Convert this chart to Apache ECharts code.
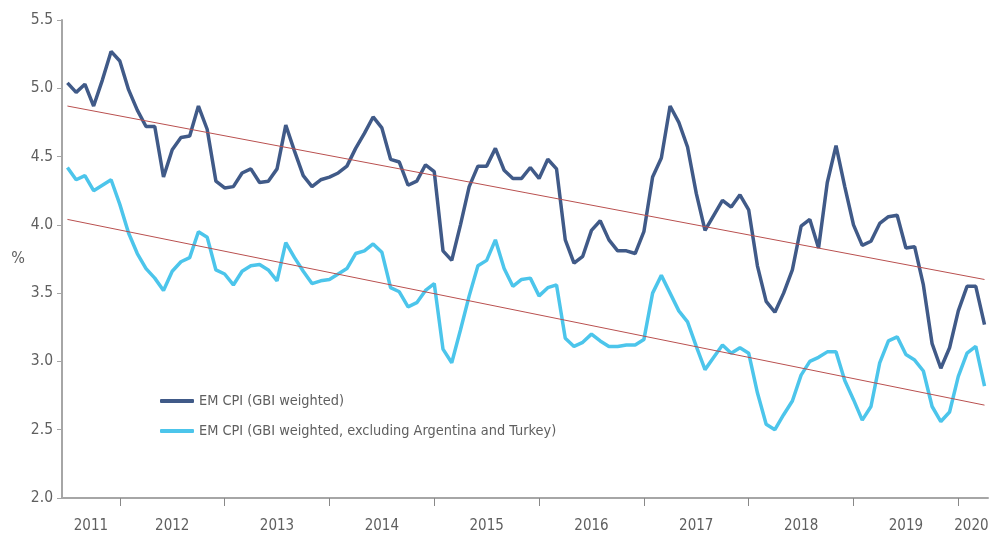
<!DOCTYPE html>
<html>
<head>
<meta charset="utf-8">
<script src="https://cdn.jsdelivr.net/npm/echarts@6/dist/echarts.min.js"></script>
<style>
  html, body { margin: 0; padding: 0; background: #fff; }
  #chart { width: 989px; height: 533px; }
</style>
</head>
<body>
<div id="chart"></div>
<script>
// monthly readings, Jul 2011 .. Apr 2020
const startYear = 2011
const startMonth = 7
const years = ['2011', '2012', '2013', '2014', '2015', '2016', '2017', '2018', '2019', '2020']

const cpiAll = [
  5.04, 4.97, 5.03, 4.87, 5.06, 5.27, 5.20, 4.99, 4.84, 4.72, 4.72, 4.35,
  4.55, 4.64, 4.65, 4.87, 4.70, 4.32, 4.27, 4.28, 4.38, 4.41, 4.31, 4.32,
  4.41, 4.73, 4.54, 4.36, 4.28, 4.33, 4.35, 4.38, 4.43, 4.56, 4.67, 4.79,
  4.71, 4.48, 4.46, 4.29, 4.32, 4.44, 4.39, 3.81, 3.74, 4.00, 4.28, 4.43,
  4.43, 4.56, 4.40, 4.34, 4.34, 4.42, 4.34, 4.48, 4.41, 3.89, 3.72, 3.77,
  3.96, 4.03, 3.89, 3.81, 3.81, 3.79, 3.95, 4.35, 4.49, 4.87, 4.75, 4.57,
  4.23, 3.96, 4.07, 4.18, 4.13, 4.22, 4.11, 3.70, 3.44, 3.36, 3.50, 3.67,
  3.99, 4.04, 3.83, 4.31, 4.58, 4.28, 4.00, 3.85, 3.88, 4.01, 4.06, 4.07,
  3.83, 3.84, 3.56, 3.13, 2.95, 3.10, 3.37, 3.55, 3.55, 3.27
]

const cpiExArgTur = [
  4.42, 4.33, 4.36, 4.25, 4.29, 4.33, 4.15, 3.94, 3.79, 3.68, 3.61, 3.52,
  3.66, 3.73, 3.76, 3.95, 3.91, 3.67, 3.64, 3.56, 3.66, 3.70, 3.71, 3.67,
  3.59, 3.87, 3.76, 3.66, 3.57, 3.59, 3.60, 3.64, 3.68, 3.79, 3.81, 3.86,
  3.80, 3.54, 3.51, 3.40, 3.43, 3.52, 3.57, 3.09, 2.99, 3.23, 3.48, 3.70,
  3.74, 3.89, 3.68, 3.55, 3.60, 3.61, 3.48, 3.54, 3.56, 3.17, 3.11, 3.14,
  3.20, 3.15, 3.11, 3.11, 3.12, 3.12, 3.16, 3.50, 3.63, 3.50, 3.37, 3.29,
  3.11, 2.94, 3.03, 3.12, 3.06, 3.10, 3.06, 2.77, 2.54, 2.50, 2.61, 2.71,
  2.90, 3.00, 3.03, 3.07, 3.07, 2.86, 2.72, 2.57, 2.67, 2.99, 3.15, 3.18,
  3.05, 3.01, 2.93, 2.67, 2.56, 2.63, 2.89, 3.06, 3.11, 2.82
]

// linear trend end points (first and last month)
const trendAll = [4.87, 3.60]
const trendExArgTur = [4.04, 2.68]

const names = ['EM CPI (GBI weighted)', 'EM CPI (GBI weighted, excluding Argentina and Turkey)']

const FONT = '"Liberation Sans Narrow", "DejaVu Sans Condensed", "Roboto", sans-serif'
const GREY_TEXT = '#5f5f5f'
const AXIS_GREY = '#a6a6a6'

const last = cpiAll.length - 1
const xMin = -0.62
const xMax = last + 0.4

// january of every year, as month index from the first reading
const yearTicks = years.slice(1).map(y => (Number(y) - startYear) * 12 - (startMonth - 1))
const bounds = [xMin, ...yearTicks, xMax]
const labelPos = years.map((y, i) => (bounds[i] + bounds[i + 1]) / 2)
labelPos[labelPos.length - 1] -= 0.2 // keep the last year label inside the frame

const toPoints = arr => arr.map((v, i) => [i, v])

const chart = echarts.init(document.getElementById('chart'))
chart.setOption({
  animation: false,
  textStyle: { fontFamily: FONT },
  grid: { left: 62, right: 1, top: 20, bottom: 35, outerBoundsMode: 'none', containLabel: false },
  legend: {
    data: names,
    orient: 'vertical',
    left: 155,
    top: 389,
    icon: 'roundRect',
    itemWidth: 34,
    itemHeight: 4,
    itemGap: 16,
    textStyle: { color: GREY_TEXT, fontSize: 14.4, fontFamily: FONT }
  },
  xAxis: {
    type: 'value',
    min: xMin,
    max: xMax,
    splitLine: { show: false },
    axisLine: { onZero: false, lineStyle: { color: AXIS_GREY, width: 2 } },
    axisTick: { show: true, customValues: yearTicks, length: 8, lineStyle: { color: '#888', width: 1 } },
    axisLabel: {
      customValues: labelPos,
      color: GREY_TEXT,
      fontSize: 15,
      margin: 21,
      formatter: v => years[labelPos.findIndex(p => Math.abs(p - v) < 1e-6)] || ''
    }
  },
  yAxis: {
    type: 'value',
    min: 2,
    max: 5.5,
    interval: 0.5,
    name: '%',
    nameLocation: 'middle',
    nameRotate: 0,
    nameGap: 35,
    nameTextStyle: { color: GREY_TEXT, fontSize: 16 },
    splitLine: { show: false },
    axisLine: { show: true, onZero: false, lineStyle: { color: AXIS_GREY, width: 2 } },
    axisTick: { show: true, length: 5, lineStyle: { color: AXIS_GREY } },
    axisLabel: { color: GREY_TEXT, fontSize: 15.5, margin: 9, formatter: v => v.toFixed(1) }
  },
  series: [
    {
      name: names[0],
      type: 'line',
      data: toPoints(cpiAll),
      symbol: 'none',
      z: 3,
      itemStyle: { color: '#405a88' },
      lineStyle: { color: '#405a88', width: 3.5 }
    },
    {
      name: names[1],
      type: 'line',
      data: toPoints(cpiExArgTur),
      symbol: 'none',
      z: 3,
      itemStyle: { color: '#4cc5eb' },
      lineStyle: { color: '#4cc5eb', width: 3.5 }
    },
    {
      name: 'trend1',
      type: 'line',
      data: [[0, trendAll[0]], [last, trendAll[1]]],
      symbol: 'none',
      silent: true,
      z: 4,
      lineStyle: { color: '#b9504f', width: 1 }
    },
    {
      name: 'trend2',
      type: 'line',
      data: [[0, trendExArgTur[0]], [last, trendExArgTur[1]]],
      symbol: 'none',
      silent: true,
      z: 4,
      lineStyle: { color: '#b9504f', width: 1 }
    }
  ]
})
</script>
</body>
</html>
